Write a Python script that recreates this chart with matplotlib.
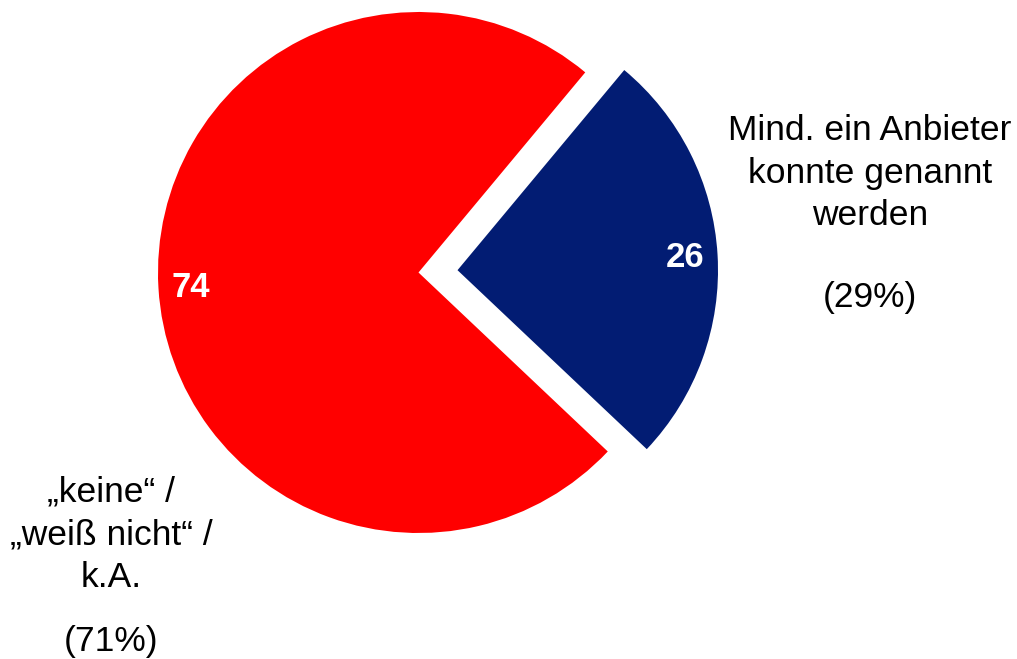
import math
import matplotlib
matplotlib.use("Agg")
import matplotlib.pyplot as plt

plt.rcParams['font.family'] = ['Liberation Sans', 'DejaVu Sans']

categories = ["„keine“ /\n„weiß nicht“ /\nk.A.",
              "Mind. ein Anbieter\nkonnte genannt\nwerden"]
percent_labels = ["(71%)", "(29%)"]
values = [74, 26]
colors = ["#FF0000", "#021C73"]
explode_frac = [0.0, 0.15]

W, H = 1017, 659
fig = plt.figure(figsize=(W / 100, H / 100), dpi=100)
ax = fig.add_axes([0, 0, 1, 1])

cx, cy, r = 418.5, H - 272.5, 260.5
explode = [e * r for e in explode_frac]
start = 50.2
wedges, texts = ax.pie(values, colors=colors, explode=explode, startangle=start,
                       counterclock=True, center=(cx, cy), radius=r,
                       wedgeprops=dict(linewidth=0), frame=True)
ax.set_xlim(0, W)
ax.set_ylim(0, H)
ax.set_aspect('equal')
ax.axis('off')

theta = start
for v, e in zip(values, explode):
    span = 360 * v / sum(values)
    mid = math.radians(theta + span / 2)
    ox = cx + e * math.cos(mid)
    oy = cy + e * math.sin(mid)
    d = 0.875 * r
    ax.text(ox + d * math.cos(mid), oy + d * math.sin(mid) - 1, str(v),
            color='white', fontsize=25, fontweight='bold', ha='center', va='center',
            zorder=5)
    theta += span

fs = 25.5
ax.text(111, H - 535, categories[0], fontsize=fs, ha='center', va='center',
        linespacing=1.38, color='black')
ax.text(111, H - 642, percent_labels[0], fontsize=fs, ha='center', va='center',
        color='black')
ax.text(870, H - 173, categories[1], fontsize=fs, ha='center', va='center',
        linespacing=1.38, color='black')
ax.text(870, H - 298, percent_labels[1], fontsize=fs, ha='center', va='center',
        color='black')

fig.savefig("out.png", dpi=100)
